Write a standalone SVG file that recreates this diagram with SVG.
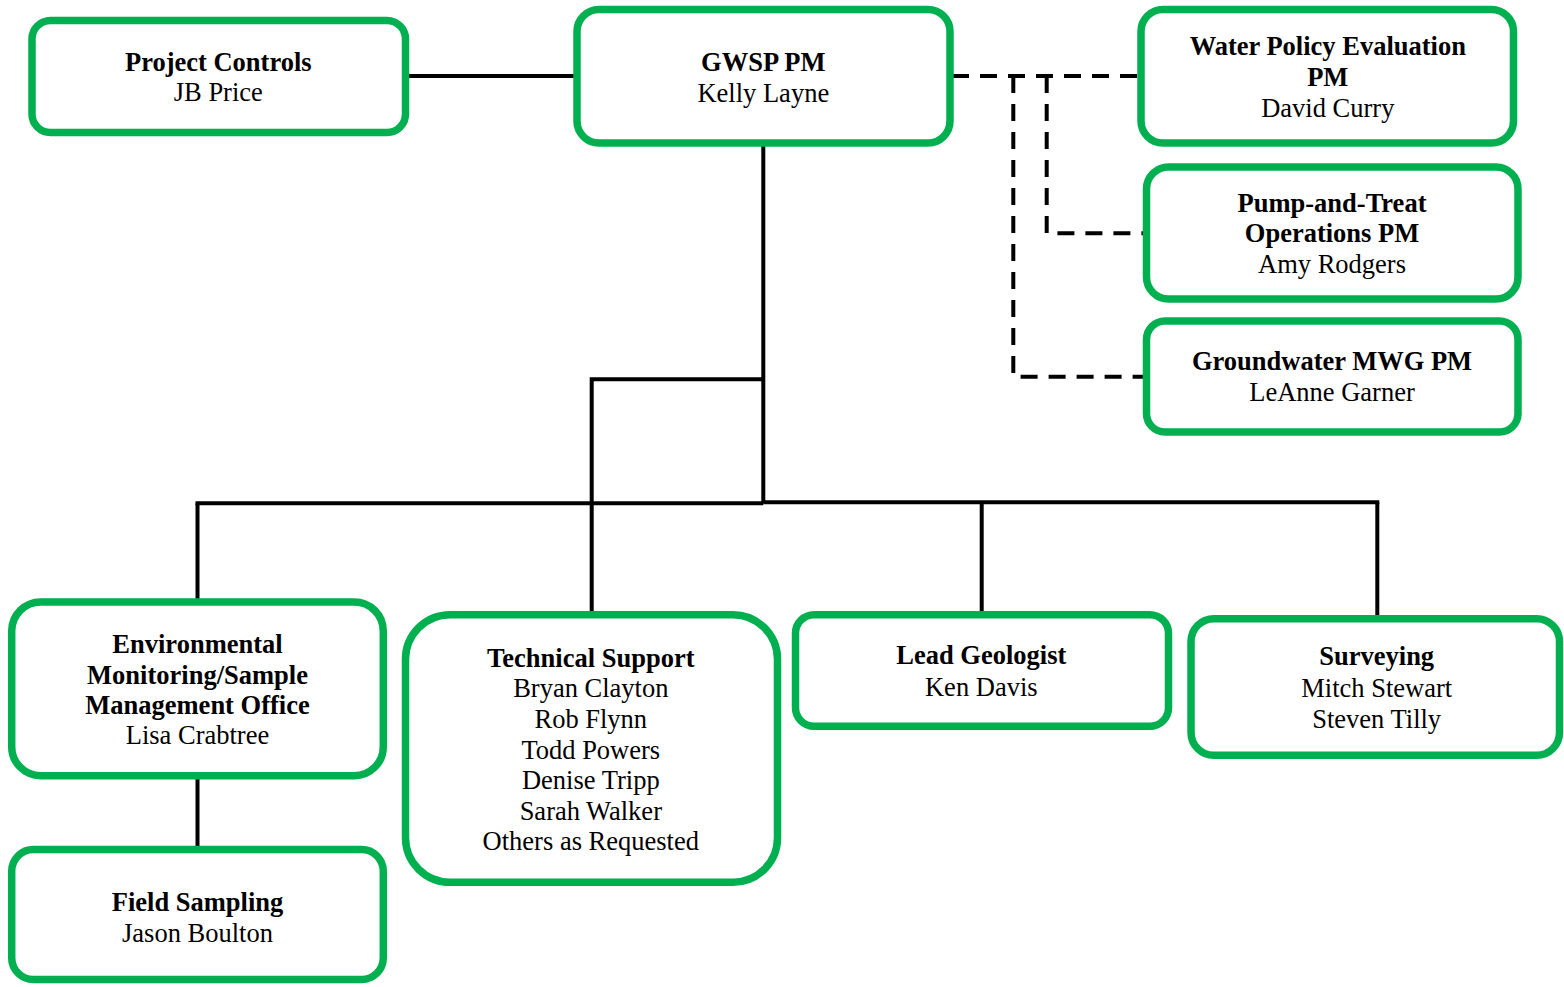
<svg xmlns="http://www.w3.org/2000/svg" width="1564" height="987" viewBox="0 0 1564 987">
<style>
.box{fill:#fff;stroke:#00B050;stroke-width:7.5}
.ln{fill:none;stroke:#000;stroke-width:4}
.dash{fill:none;stroke:#000;stroke-width:4;stroke-dasharray:17 11}
text{font-family:"Liberation Serif","Times New Roman",serif;font-size:26.5px;fill:#000;text-anchor:middle}
.t{font-weight:bold}
</style>
<rect width="1564" height="987" fill="#fff"/>
<g id="connectors">
<path class="ln" d="M405,76 H577"/>
<path class="ln" d="M763.3,143 V503.3"/>
<path class="ln" d="M195.5,503.3 H763.3"/>
<path class="ln" d="M763.3,502.3 H1379.3"/>
<path class="ln" d="M763.3,379.3 H591.7 V615"/>
<path class="ln" d="M197.5,503.3 V602"/>
<path class="ln" d="M981.7,502.3 V615"/>
<path class="ln" d="M1377.3,502.3 V619"/>
<path class="ln" d="M197.5,776 V850"/>
<path class="dash" d="M952,76 H1141"/>
<path class="dash" d="M1013.3,76 V376.7 H1146"/>
<path class="dash" d="M1046.7,76 V233.3 H1146"/>
</g>
<g id="project-controls">
<rect class="box" x="32" y="20.5" width="373.5" height="112" rx="18.5"/>
<text x="218.3" y="70.7" class="t">Project Controls</text>
<text x="218.3" y="100.7">JB Price</text>
</g>
<g id="gwsp-pm">
<rect class="box" x="577" y="9.5" width="373" height="133.5" rx="22"/>
<text x="763.3" y="70.7" class="t">GWSP PM</text>
<text x="763.3" y="101.7">Kelly Layne</text>
</g>
<g id="water-policy">
<rect class="box" x="1141" y="9.5" width="372.5" height="133.5" rx="22"/>
<text x="1327.8" y="55" class="t">Water Policy Evaluation</text>
<text x="1327.8" y="86" class="t">PM</text>
<text x="1327.8" y="116.7">David Curry</text>
</g>
<g id="pump-and-treat">
<rect class="box" x="1146.5" y="167" width="371.5" height="132" rx="22"/>
<text x="1332" y="211.7" class="t">Pump-and-Treat</text>
<text x="1332" y="242.3" class="t">Operations PM</text>
<text x="1332" y="272.7">Amy Rodgers</text>
</g>
<g id="groundwater-mwg">
<rect class="box" x="1146.5" y="321" width="371.5" height="111" rx="18.5"/>
<text x="1332" y="370" class="t">Groundwater MWG PM</text>
<text x="1332" y="401">LeAnne Garner</text>
</g>
<g id="env-monitoring">
<rect class="box" x="11.7" y="602" width="371.6" height="173.7" rx="29"/>
<text x="197.5" y="653.3" class="t">Environmental</text>
<text x="197.5" y="683.6" class="t">Monitoring/Sample</text>
<text x="197.5" y="714" class="t">Management Office</text>
<text x="197.5" y="744.3">Lisa Crabtree</text>
</g>
<g id="field-sampling">
<rect class="box" x="11.7" y="849.5" width="371.6" height="130" rx="21.7"/>
<text x="197.5" y="911" class="t">Field Sampling</text>
<text x="197.5" y="941.7">Jason Boulton</text>
</g>
<g id="technical-support">
<rect class="box" x="405.5" y="614.7" width="372" height="267.6" rx="44.6"/>
<text x="590.8" y="666.7" class="t">Technical Support</text>
<text x="590.8" y="697.3">Bryan Clayton</text>
<text x="590.8" y="727.9">Rob Flynn</text>
<text x="590.8" y="758.5">Todd Powers</text>
<text x="590.8" y="789.1">Denise Tripp</text>
<text x="590.8" y="819.7">Sarah Walker</text>
<text x="590.8" y="850.3">Others as Requested</text>
</g>
<g id="lead-geologist">
<rect class="box" x="795.5" y="614.7" width="373" height="111.6" rx="18.6"/>
<text x="981.3" y="664" class="t">Lead Geologist</text>
<text x="981.3" y="696">Ken Davis</text>
</g>
<g id="surveying">
<rect class="box" x="1191" y="618.7" width="368.5" height="136.6" rx="22.8"/>
<text x="1376.7" y="665" class="t">Surveying</text>
<text x="1376.7" y="696.7">Mitch Stewart</text>
<text x="1376.7" y="728.3">Steven Tilly</text>
</g>
</svg>
